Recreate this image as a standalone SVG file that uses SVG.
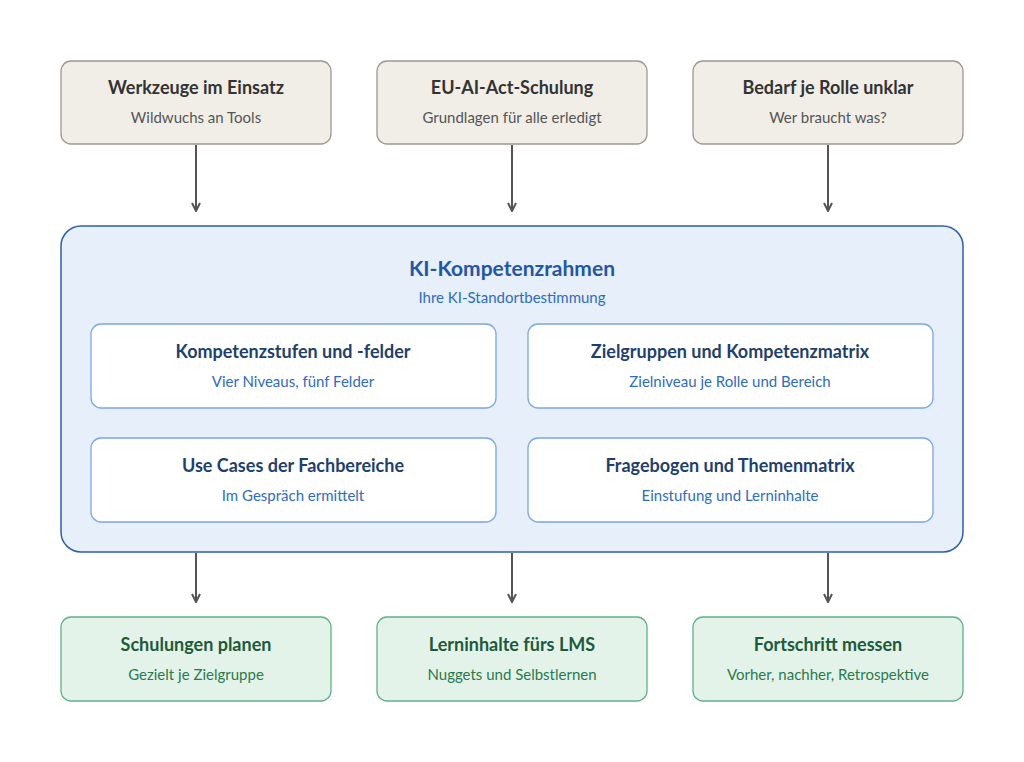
<svg xmlns="http://www.w3.org/2000/svg" width="1024" height="762" viewBox="0 0 1024 762">
<style>
text{font-family:Lato,"Open Sans","Liberation Sans",sans-serif;text-anchor:middle}
.top rect{fill:#f1eee8;stroke:#9e9890;stroke-width:1.3}
.top .t{font-size:18px;font-weight:bold;fill:#333}
.top .s{font-size:15px;fill:#555}
.in rect{fill:#fff;stroke:#7aa6e6;stroke-width:1.3}
.in .t{font-size:18px;font-weight:bold;fill:#1f3f6e}
.in .s{font-size:15px;fill:#2f6cc0}
.bot rect{fill:#e3f3ea;stroke:#62b088;stroke-width:1.3}
.bot .t{font-size:18px;font-weight:bold;fill:#1c5a3a}
.bot .s{font-size:15px;fill:#2a7a4c}
.c line{stroke:#555;stroke-width:2;marker-end:url(#a)}
</style>
<defs><marker id="a" markerWidth="10" markerHeight="10" refX="9" refY="5" orient="auto" markerUnits="userSpaceOnUse"><path d="M1,1 L9,5 L1,9" fill="none" stroke="#555" stroke-width="2"/></marker></defs>
<rect width="1024" height="762" fill="#fff"/>
<g id="n1" class="top"><rect x="61" y="61" width="270" height="83" rx="10"/><text class="t" x="196" y="94">Werkzeuge im Einsatz</text><text class="s" x="196" y="123">Wildwuchs an Tools</text></g>
<g id="n2" class="top"><rect x="377" y="61" width="270" height="83" rx="10"/><text class="t" x="512" y="94">EU-AI-Act-Schulung</text><text class="s" x="512" y="123">Grundlagen für alle erledigt</text></g>
<g id="n3" class="top"><rect x="693" y="61" width="270" height="83" rx="10"/><text class="t" x="828" y="94">Bedarf je Rolle unklar</text><text class="s" x="828" y="123">Wer braucht was?</text></g>
<g id="frame"><rect x="61" y="226" width="902" height="326" rx="20" fill="#e6effa" stroke="#2f5ea8" stroke-width="1.5"/><text x="512" y="276" font-size="21" font-weight="bold" fill="#2456a4">KI-Kompetenzrahmen</text><text x="512" y="303" font-size="15" fill="#2f6cc0">Ihre KI-Standortbestimmung</text></g>
<g id="i1" class="in"><rect x="91" y="324" width="405" height="84" rx="10"/><text class="t" x="293" y="358">Kompetenzstufen und -felder</text><text class="s" x="293" y="387">Vier Niveaus, fünf Felder</text></g>
<g id="i2" class="in"><rect x="528" y="324" width="405" height="84" rx="10"/><text class="t" x="730" y="358">Zielgruppen und Kompetenzmatrix</text><text class="s" x="730" y="387">Zielniveau je Rolle und Bereich</text></g>
<g id="i3" class="in"><rect x="91" y="438" width="405" height="84" rx="10"/><text class="t" x="293" y="472">Use Cases der Fachbereiche</text><text class="s" x="293" y="501">Im Gespräch ermittelt</text></g>
<g id="i4" class="in"><rect x="528" y="438" width="405" height="84" rx="10"/><text class="t" x="730" y="472">Fragebogen und Themenmatrix</text><text class="s" x="730" y="501">Einstufung und Lerninhalte</text></g>
<g id="b1" class="bot"><rect x="61" y="617" width="270" height="84" rx="10"/><text class="t" x="196" y="651">Schulungen planen</text><text class="s" x="196" y="680">Gezielt je Zielgruppe</text></g>
<g id="b2" class="bot"><rect x="377" y="617" width="270" height="84" rx="10"/><text class="t" x="512" y="651">Lerninhalte fürs LMS</text><text class="s" x="512" y="680">Nuggets und Selbstlernen</text></g>
<g id="b3" class="bot"><rect x="693" y="617" width="270" height="84" rx="10"/><text class="t" x="828" y="651">Fortschritt messen</text><text class="s" x="828" y="680">Vorher, nachher, Retrospektive</text></g>
<g class="c">
<line x1="196" y1="145" x2="196" y2="211"/><line x1="512" y1="145" x2="512" y2="211"/><line x1="828" y1="145" x2="828" y2="211"/>
<line x1="196" y1="553" x2="196" y2="602"/><line x1="512" y1="553" x2="512" y2="602"/><line x1="828" y1="553" x2="828" y2="602"/>
</g>
</svg>
